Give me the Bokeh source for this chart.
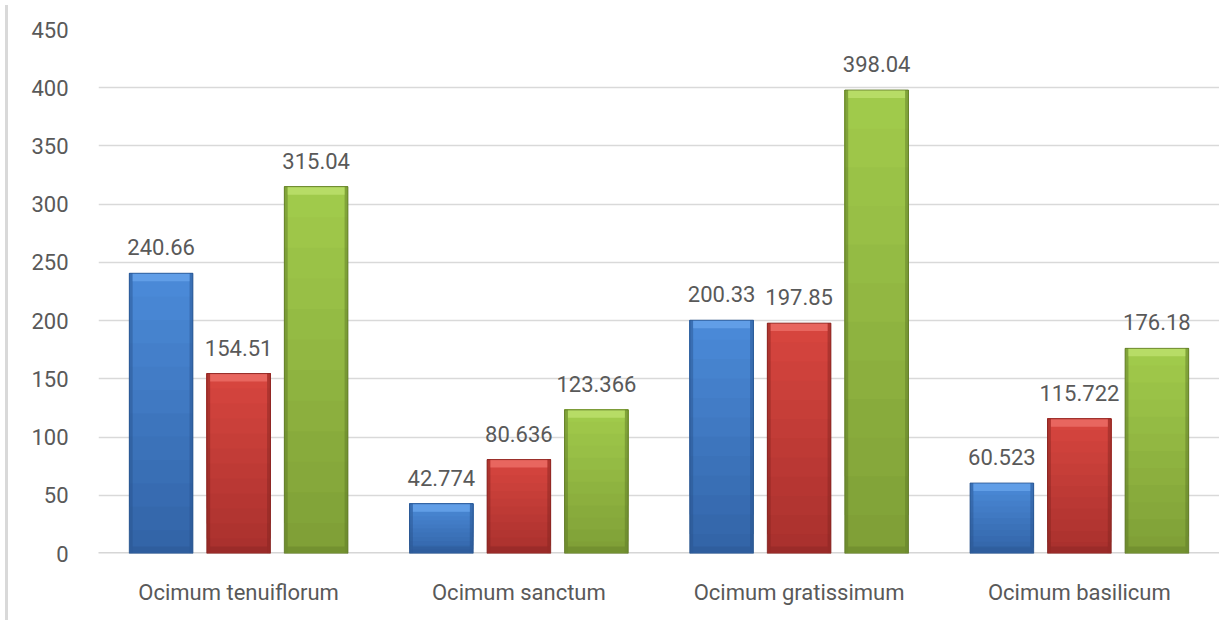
from bokeh.plotting import figure
from bokeh.models import ColumnDataSource, FactorRange, Range1d, Div, FixedTicker
from bokeh.transform import dodge
from bokeh.layouts import row
from bokeh.core.properties import value
from bokeh.embed import file_html
from bokeh.resources import INLINE

categories = ["Ocimum tenuiflorum", "Ocimum sanctum", "Ocimum gratissimum", "Ocimum basilicum"]
series_a = [240.66, 42.774, 200.33, 60.523]
series_b = [154.51, 80.636, 197.85, 115.722]
series_c = [315.04, 123.366, 398.04, 176.18]
y_ticks = [0, 50, 100, 150, 200, 250, 300, 350, 400, 450]

FONT = "Roboto"
TXT = "#595959"
FS = "22px"

p = figure(x_range=FactorRange(*categories), y_range=Range1d(0, 450),
           width=1206, height=615, output_backend="svg", toolbar_location=None,
           min_border_left=85, min_border_right=0, min_border_top=29, min_border_bottom=62)
p.outline_line_color = None
p.background_fill_color = "white"
p.border_fill_color = "white"

p.xgrid.grid_line_color = None
p.ygrid.grid_line_color = "#d9d9d9"
p.ygrid.grid_line_width = 1.5
p.yaxis.ticker = FixedTicker(ticks=y_ticks)

for ax in (p.xaxis, p.yaxis):
    ax.axis_line_color = None
    ax.major_tick_line_color = None
    ax.minor_tick_line_color = None
    ax.major_label_text_font = FONT
    ax.major_label_text_font_size = FS
    ax.major_label_text_color = TXT
p.yaxis.major_label_standoff = 24
p.xaxis.major_label_standoff = 20

p.line(x=[(categories[0], -1), (categories[-1], 1)], y=[0, 0], line_color="#d6d6d6", line_width=3)


def hex2rgb(h):
    h = h.lstrip("#")
    return tuple(int(h[i:i + 2], 16) for i in (0, 2, 4))


def mix(c1, c2, t):
    a, b = hex2rgb(c1), hex2rgb(c2)
    return "#%02x%02x%02x" % tuple(int(round(a[i] + (b[i] - a[i]) * t)) for i in range(3))


px_per_unit = 524 / 450.0
top_band = 8 / px_per_unit
bot_band = 7 / px_per_unit
W = 0.227
side_w = 0.012
N = 12

styles = [
    # values, offset, top colour, bottom colour, bevel light, edge dark
    (series_a, -0.2766, "#4B8BD9", "#3263A6", "#6AA6EC", "#27538C"),
    (series_b, 0.0, "#D8463F", "#A8302D", "#EE716B", "#82231F"),
    (series_c, 0.2766, "#A2CC4C", "#7E9E36", "#BFE26F", "#5C7626"),
]

for vals, off, ctop, cbot, light, dark in styles:
    src = ColumnDataSource(dict(
        cat=categories, top=vals,
        top_band_bottom=[v - top_band for v in vals],
        bot_band_top=[bot_band for v in vals],
        label=[str(v) for v in vals],
    ))
    x = dodge("cat", off, range=p.x_range)
    # vertical gradient: overlapping slices, each drawn from its start up to the bar top
    for k in range(N):
        seg = ColumnDataSource(dict(
            cat=categories,
            b=[v * k / N for v in vals],
            t=vals,
        ))
        p.vbar(x=x, top="t", bottom="b", width=W, source=seg,
               fill_color=mix(cbot, ctop, (k + 0.5) / N), line_color=None)
    # darker sides
    for s in (-1, 1):
        xs = dodge("cat", off + s * (W / 2 - side_w / 2), range=p.x_range)
        p.vbar(x=xs, top="top", bottom=0, width=side_w, source=src,
               fill_color=dark, fill_alpha=0.45, line_color=None)
    # top bevel
    p.vbar(x=x, top="top", bottom="top_band_bottom", width=W - 2 * side_w, source=src,
           fill_color=light, line_color=None, fill_alpha=0.75)
    # bottom bevel
    p.vbar(x=x, top="bot_band_top", bottom=0, width=W - 2 * side_w, source=src,
           fill_color=dark, line_color=None, fill_alpha=0.35)
    # outline
    p.vbar(x=x, top="top", bottom=0, width=W, source=src,
           fill_color=None, line_color=dark, line_width=1, line_alpha=0.8)
    p.text(x=x, y="top", text="label", source=src, text_align="center",
           text_baseline="alphabetic", y_offset=-26, text_font=value(FONT),
           text_font_size=FS, text_color=TXT)

bar = Div(width=3, height=615, styles={"background-color": "#d9d9d9"})
layout = row(bar, p, spacing=0)

open("out.html", "w").write(file_html(layout, INLINE))
